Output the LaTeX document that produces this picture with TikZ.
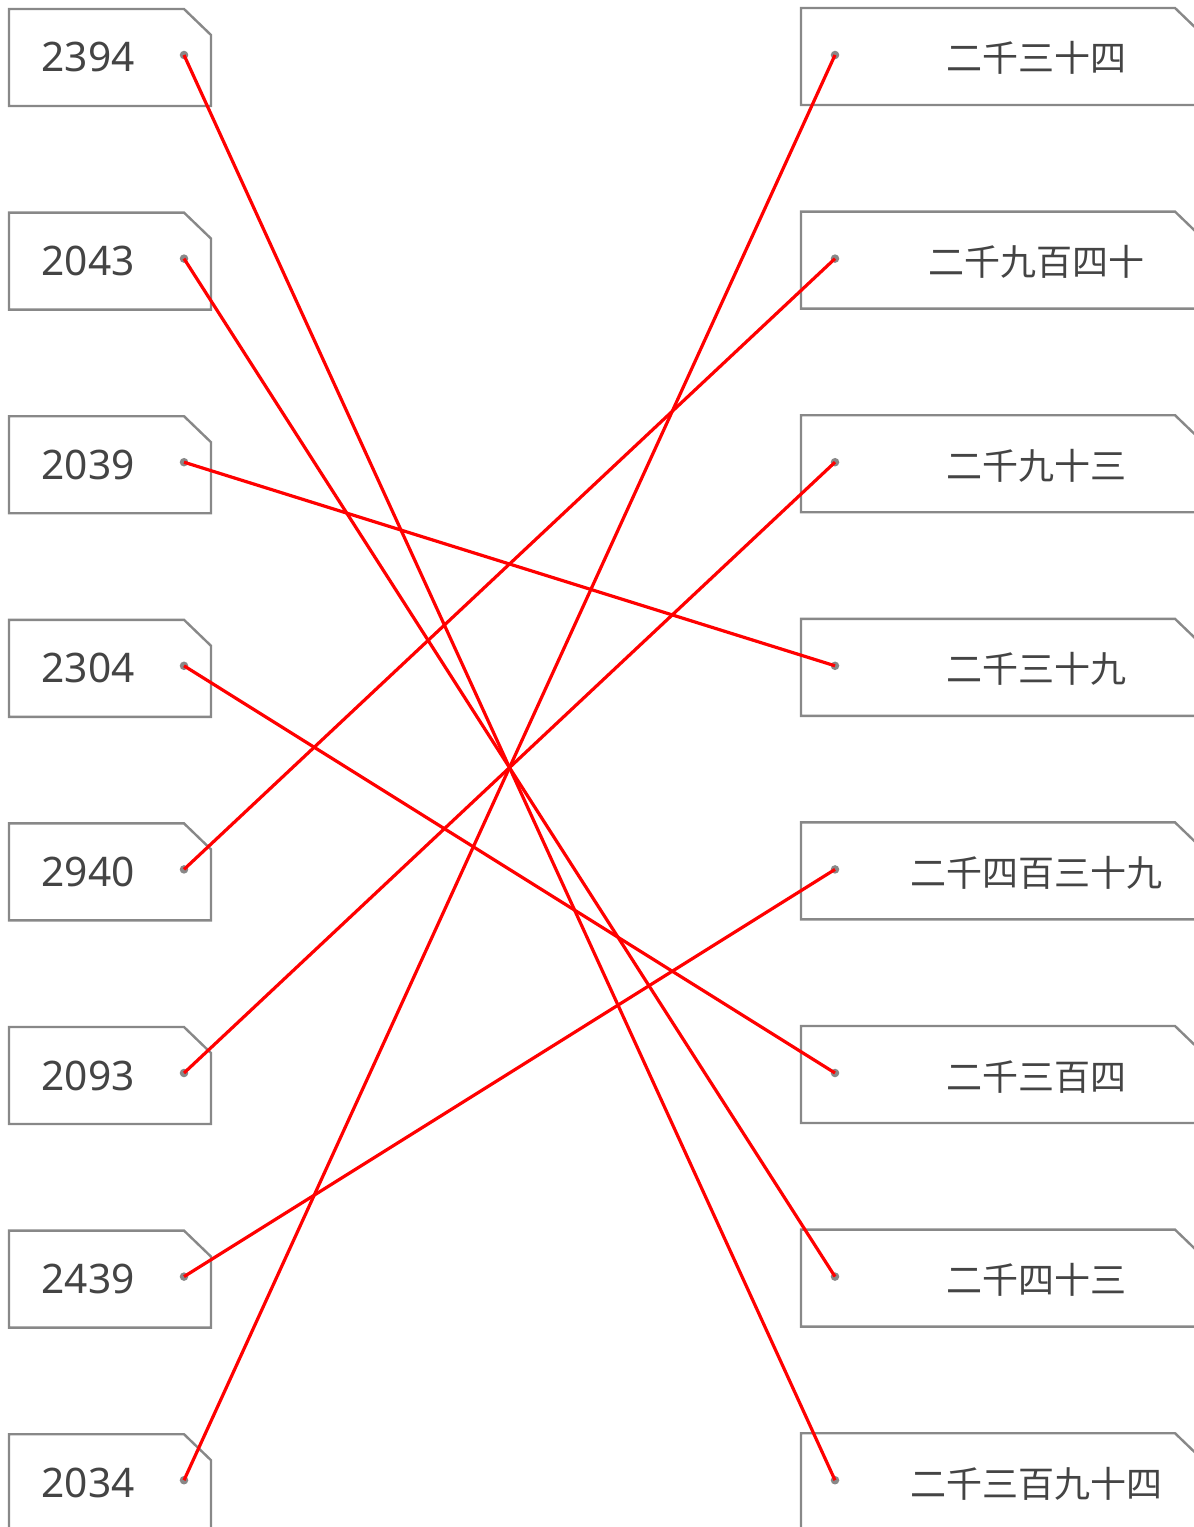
\documentclass[tikz,border=0pt]{standalone}
\usepackage{fontspec}
\setmainfont{Noto Sans}
\newfontfamily\cjk{Noto Sans CJK SC}
\definecolor{boxgray}{HTML}{888888}
\definecolor{textgray}{HTML}{444444}
\tikzset{
  tagbox/.style={draw=boxgray, line width=1.8pt, fill=white},
  link/.style={draw=red, line width=2.4pt},
  pin/.style={fill=boxgray},
  numtext/.style={anchor=base, text=textgray, font=\fontsize{30.5}{36}\selectfont},
  hantext/.style={anchor=base, text=textgray, font=\cjk\fontsize{27}{32}\selectfont},
}
\begin{document}
\begin{tikzpicture}[x=0.75pt, y=-0.75pt]
  \useasboundingbox (0,0) rectangle (1194,1527);
  % left column: numbers
  \foreach \i/\t in {1/2394,2/2043,3/2039,4/2304,5/2940,6/2093,7/2439,8/2034} {
    \pgfmathsetmacro{\y}{9+(\i-1)*203.6}
    \draw[tagbox] (9,\y) -- (184,\y) -- (211,\y+26) -- (211,\y+97) -- (9,\y+97) -- cycle;
    \node[numtext] (num\i) at (88,\y+63) {\t};
    \coordinate (l\i) at (184,\y+46);
    \fill[pin] (l\i) circle (3.2pt);
  }
  % right column: words
  \foreach \i/\t in {1/二千三十四,2/二千九百四十,3/二千九十三,4/二千三十九,5/二千四百三十九,6/二千三百四,7/二千四十三,8/二千三百九十四} {
    \pgfmathsetmacro{\y}{8+(\i-1)*203.6}
    \draw[tagbox] (801,\y) -- (1175,\y) -- (1202,\y+26) -- (1202,\y+97) -- (801,\y+97) -- cycle;
    \node[hantext] (word\i) at (1036,\y+64) {\t};
    \coordinate (r\i) at (835,\y+47);
    \fill[pin] (r\i) circle (3.2pt);
  }
  % matching lines
  \foreach \a/\b in {1/8,2/7,3/4,4/6,5/2,6/3,7/5,8/1}
    \draw[link] (l\a) -- (r\b);
\end{tikzpicture}
\end{document}
